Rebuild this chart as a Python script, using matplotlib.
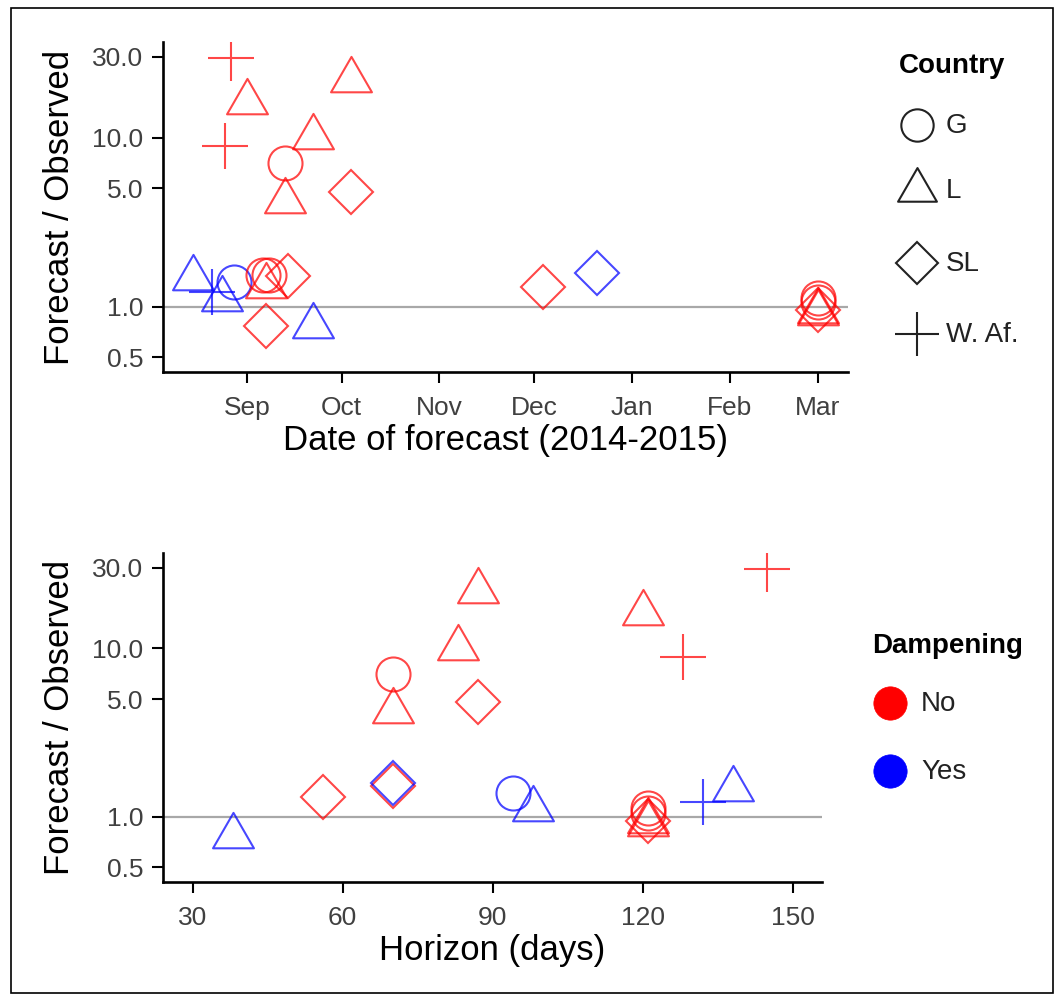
import matplotlib
matplotlib.use('Agg')
import matplotlib.pyplot as plt
import matplotlib.dates as mdates
from matplotlib.path import Path
from matplotlib.ticker import NullLocator, FixedLocator, FixedFormatter
from matplotlib.patches import Rectangle
import numpy as np
import datetime as dt

plt.rcParams['font.family'] = ['Liberation Sans', 'DejaVu Sans']

# ---------------- data ----------------
forecast_date = ['2014-08-27', '2014-08-25', '2014-09-01', '2014-10-04', '2014-09-22',
                 '2014-09-13', '2014-09-13', '2014-10-04', '2014-08-15', '2014-08-21',
                 '2014-08-24', '2014-08-28', '2014-09-06', '2014-09-08', '2014-09-07',
                 '2014-09-14', '2014-09-07', '2014-09-22', '2014-12-04', '2014-12-21',
                 '2015-03-01', '2015-03-01', '2015-03-01', '2015-03-01', '2015-03-01']
ratio = [29.5, 8.9, 16.3, 21.8, 10.05,
         7.07, 4.24, 4.79, 1.47, 1.22,
         1.11, 1.39, 1.53, 1.53, 1.33,
         1.52, 0.77, 0.77, 1.31, 1.59,
         1.12, 1.06, 0.94, 0.91, 0.95]
country = ['W. Af.', 'W. Af.', 'L', 'L', 'L',
           'G', 'L', 'SL', 'L', 'W. Af.',
           'L', 'G', 'G', 'G', 'L',
           'SL', 'SL', 'L', 'SL', 'SL',
           'G', 'G', 'L', 'L', 'SL']
dampening = ['No', 'No', 'No', 'No', 'No',
             'No', 'No', 'No', 'Yes', 'Yes',
             'Yes', 'Yes', 'No', 'No', 'No',
             'No', 'No', 'Yes', 'No', 'Yes',
             'No', 'No', 'No', 'No', 'No']
horizon = [144.8, 128, 120, 87, 83,
           70, 70, 87, 138, 132,
           98, 94, np.nan, np.nan, np.nan,
           70, np.nan, 38, 56, 70,
           121, 121, 121, 121, 121]

country_levels = ['G', 'L', 'SL', 'W. Af.']
damp_levels = ['No', 'Yes']
y_ticks = [0.5, 1.0, 5.0, 10.0, 30.0]
y_ticklabels = ['0.5', '1.0', '5.0', '10.0', '30.0']
h_ticks = [30, 60, 90, 120, 150]

# ---------------- styles ----------------
TRI = Path([(0, 1), (0.866, -0.5), (-0.866, -0.5), (0, 1)],
           [Path.MOVETO, Path.LINETO, Path.LINETO, Path.CLOSEPOLY])
shape_style = {'G': dict(marker='o', ms=24.5),
               'L': dict(marker=TRI, ms=34),
               'SL': dict(marker='D', ms=22),
               'W. Af.': dict(marker='+', ms=33)}
damp_color = {'No': (1.0, 0.0, 0.0, 0.72), 'Yes': (0.0, 0.0, 1.0, 0.72)}
damp_solid = {'No': '#FF0000', 'Yes': '#0000FF'}

W, H = 1060, 1000
fig = plt.figure(figsize=(W / 100, H / 100), dpi=100)

# overlay for frame & legends (pixel coordinates)
ov = fig.add_axes([0, 0, 1, 1], zorder=-1)
ov.set_xlim(0, W)
ov.set_ylim(H, 0)
ov.axis('off')
ov.add_patch(Rectangle((11, 8), 1042, 985, fill=False, lw=1.2, edgecolor='black'))


def px_axes(l, t, r, b):
    return fig.add_axes([l / W, 1 - b / H, (r - l) / W, (b - t) / H])


def style_axes(ax):
    for s in ['top', 'right']:
        ax.spines[s].set_visible(False)
    for s in ['left', 'bottom']:
        ax.spines[s].set_linewidth(1.9)
        ax.spines[s].set_color('black')
    ax.set_yscale('log')
    ax.set_ylim(0.41, 36.8)
    ax.yaxis.set_major_locator(FixedLocator(y_ticks))
    ax.yaxis.set_major_formatter(FixedFormatter(y_ticklabels))
    ax.yaxis.set_minor_locator(NullLocator())
    ax.tick_params(axis='both', which='major', direction='out', length=8, width=1.5,
                   color='black', labelsize=19, labelcolor='#404040')
    ax.tick_params(axis='y', pad=6)
    ax.tick_params(axis='x', pad=9)
    ax.axhline(1.0, color='#A8A8A8', lw=1.6, zorder=1)
    ax.set_ylabel('Forecast / Observed', fontsize=25, color='black', labelpad=12)


def draw_points(ax, xs):
    for x, y, c, d in zip(xs, ratio, country, dampening):
        if x is None or (isinstance(x, float) and np.isnan(x)):
            continue
        st = shape_style[c]
        ax.plot([x], [y], linestyle='none', marker=st['marker'], markersize=st['ms'],
                markerfacecolor='none', markeredgecolor=damp_color[d],
                markeredgewidth=1.5, zorder=3)


# ---- top panel ----
ax1 = px_axes(163, 42, 848, 372)
style_axes(ax1)
dates = [dt.datetime.strptime(s, '%Y-%m-%d') for s in forecast_date]
draw_points(ax1, dates)
ax1.set_xlim(dt.datetime(2014, 8, 5, 10), dt.datetime(2015, 3, 10, 12))
ax1.xaxis.set_major_locator(mdates.MonthLocator(bymonth=[9, 10, 11, 12, 1, 2, 3]))
ax1.xaxis.set_major_formatter(mdates.DateFormatter('%b'))
ax1.set_xlabel('Date of forecast (2014-2015)', fontsize=25, color='black', labelpad=3)

# ---- bottom panel ----
ax2 = px_axes(163, 553, 822, 882)
style_axes(ax2)
draw_points(ax2, horizon)
ax2.set_xlim(24.1, 155.8)
ax2.xaxis.set_major_locator(FixedLocator(h_ticks))
ax2.set_xlabel('Horizon (days)', fontsize=25, color='black', labelpad=3)

# ---- legend: Country ----
ov.text(899, 66, 'Country', fontsize=20, fontweight='bold', color='black',
        ha='left', va='center')
leg_y = [125, 190, 263, 334]
for lvl, yy in zip(country_levels, leg_y):
    st = shape_style[lvl]
    ov.plot([917], [yy], linestyle='none', marker=st['marker'], markersize=st['ms'] * 0.95,
            markerfacecolor='none', markeredgecolor='#222222', markeredgewidth=1.5)
    ov.text(946, yy + 1, lvl, fontsize=20, color='#222222', ha='left', va='center')

# ---- legend: Dampening ----
ov.text(872, 646, 'Dampening', fontsize=20, fontweight='bold', color='black',
        ha='left', va='center')
for lvl, yy in zip(damp_levels, [703, 771]):
    ov.plot([890], [yy], linestyle='none', marker='o', markersize=24,
            markerfacecolor=damp_solid[lvl], markeredgecolor=damp_solid[lvl],
            markeredgewidth=0.5)
    ov.text(921, yy + 1, lvl, fontsize=20, color='#222222', ha='left', va='center')

fig.savefig('out.png', dpi=100)
